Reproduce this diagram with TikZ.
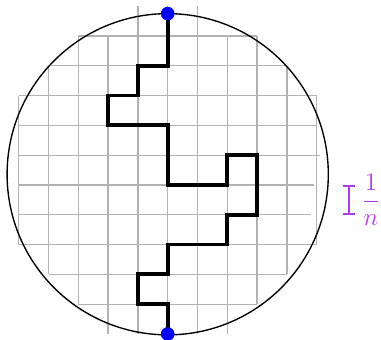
\documentclass[tikz,border=0pt]{standalone}
\usepackage{amsmath,amssymb}
\usepackage{tikz}
\usetikzlibrary{arrows.meta}

\definecolor{meshviolet}{RGB}{175,60,235}

\begin{document}
\begin{tikzpicture}[
    x=0.5cm, y=0.5cm,
    gridline/.style={draw=gray!60, line width=0.6pt},
    rim/.style={draw=black, line width=0.65pt},
    walk/.style={draw=black, line width=1.8pt, line join=miter},
    endpt/.style={circle, fill=blue, inner sep=0pt, minimum size=6.4pt},
    scalebar/.style={draw=meshviolet, line width=0.85pt, {Bar[width=5.6pt]}-{Bar[width=5.6pt]}}
]

\useasboundingbox (-5.628,-5.201) rectangle (7.158,6.208);

% Lattice of mesh 1/n
\draw[gridline] (-3,5) -- (3,5);
\draw[gridline] (-4,4) -- (4,4);
\draw[gridline] (-5,3) -- (5,3);
\draw[gridline] (-5,2) -- (5,2);
\draw[gridline] (-5,1) -- (5.1,1);
\draw[gridline] (-5,0) -- (4.9,0);
\draw[gridline] (-5,-1) -- (4.8,-1);
\draw[gridline] (-5,-2) -- (5,-2);
\draw[gridline] (-4,-3) -- (4,-3);
\draw[gridline] (-3,-4) -- (3,-4);

\draw[gridline] (-5,-2) -- (-5,3);
\draw[gridline] (-4,-3) -- (-4,4);
\draw[gridline] (-3,-4) -- (-3,5);
\draw[gridline] (-2,-5) -- (-2,5);
\draw[gridline] (-1,-5) -- (-1,6);
\draw[gridline] (0,-5) -- (0,6);
\draw[gridline] (1,-5) -- (1,6);
\draw[gridline] (2,-5) -- (2,5);
\draw[gridline] (3,-4) -- (3,5);
\draw[gridline] (4,-3) -- (4,4);
\draw[gridline] (5,-2) -- (5,3);

% Domain
\draw[rim] (0,0.36) circle (5.39);

% Endpoints on the boundary
\node[endpt] (top) at (0,5.75) {};
\node[endpt] (bot) at (0,-5) {};

% Lattice path from top to bottom
\draw[walk] (top.center) -- (0,4) -- (-1,4) -- (-1,3) -- (-2,3) -- (-2,2)
    -- (0,2) -- (0,0) -- (2,0) -- (2,1) -- (3,1) -- (3,-1) -- (2,-1)
    -- (2,-2) -- (0,-2) -- (0,-3) -- (-1,-3) -- (-1,-4) -- (0,-4) -- (bot.center);
\node[endpt] at (top) {};
\node[endpt] at (bot) {};

% Mesh size marker
\coordinate (tick0) at (6.09,0);
\coordinate (tick1) at (6.09,-1);
\draw[scalebar] (tick1) -- (tick0);
\node[text=meshviolet, font=\fontsize{13}{15}\selectfont] (mesh) at (6.82,-0.5) {$\dfrac{1}{n}$};

\end{tikzpicture}
\end{document}
